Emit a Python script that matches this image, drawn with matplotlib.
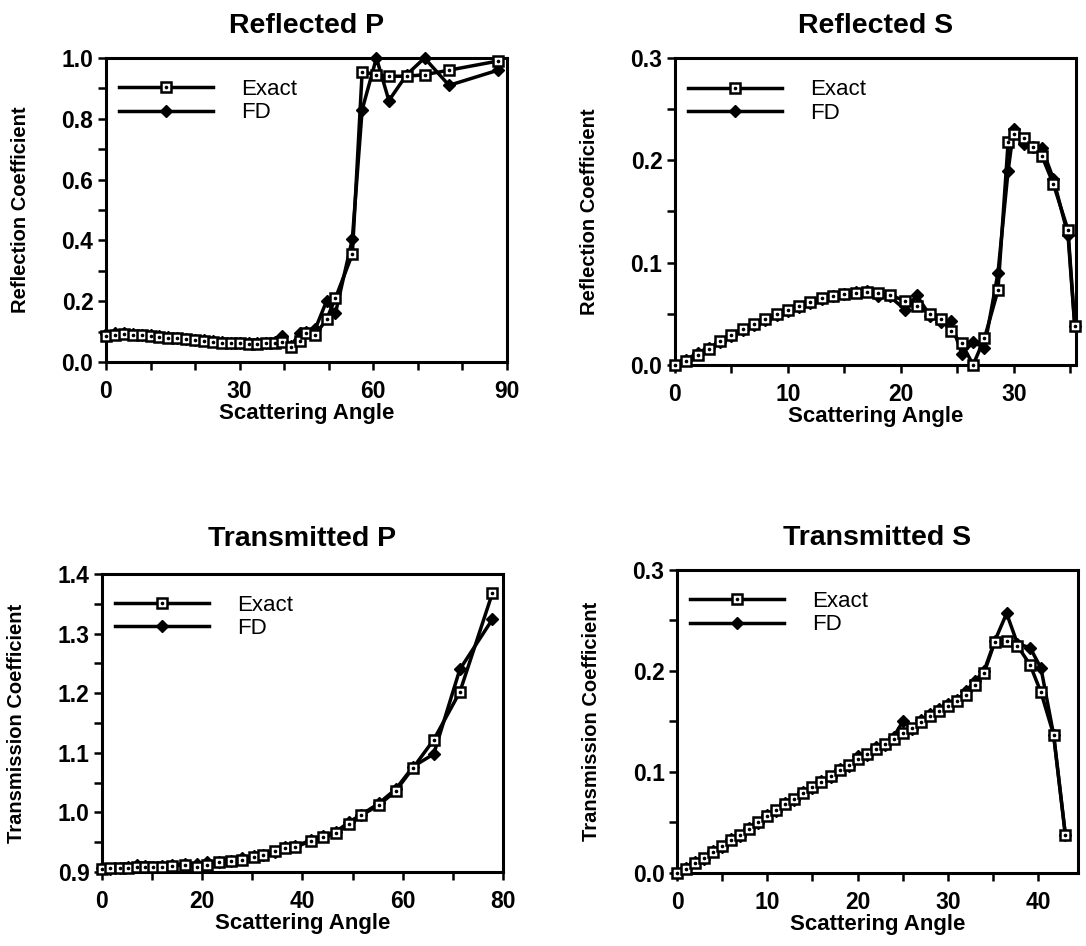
import matplotlib
matplotlib.use("Agg")
import matplotlib.pyplot as plt
from matplotlib.ticker import MultipleLocator, FormatStrFormatter
from matplotlib.legend_handler import HandlerTuple

plt.rcParams['font.family'] = ['Liberation Sans', 'DejaVu Sans']
plt.rcParams['font.weight'] = 'bold'
plt.rcParams['axes.titleweight'] = 'bold'
plt.rcParams['axes.labelweight'] = 'bold'

# ---------------- data ----------------
# Reflected P
rp_angle = [0, 2, 4, 6, 8, 10, 12, 14, 16, 18, 20, 22, 24, 26, 28, 30, 32, 34, 36, 38,
            39.5, 41.5, 43.5, 45, 47, 49.5, 51.5, 55.3, 57.5, 60.7, 63.5, 67.5, 71.5, 77, 88]
rp_exact = [0.085, 0.090, 0.093, 0.090, 0.088, 0.085, 0.083, 0.080, 0.078, 0.075, 0.072, 0.070,
            0.067, 0.064, 0.062, 0.061, 0.060, 0.060, 0.061, 0.062,
            0.065, 0.050, 0.070, 0.095, 0.090, 0.140, 0.210, 0.355, 0.955, 0.945, 0.940, 0.940,
            0.945, 0.960, 0.990]
rp_fd = [0.092, 0.095, 0.095, 0.093, 0.090, 0.088, 0.084, 0.082, 0.079, 0.076, 0.074, 0.072,
         0.070, 0.066, 0.063, 0.062, 0.061, 0.062, 0.062, 0.065,
         0.085, 0.052, 0.095, 0.100, 0.110, 0.200, 0.160, 0.405, 0.830, 1.000, 0.860, 0.945,
         1.000, 0.910, 0.960]

# Reflected S
rs_angle = [0, 1, 2, 3, 4, 5, 6, 7, 8, 9, 10, 11, 12, 13, 14, 15, 16, 17, 18, 19,
            20.4, 21.4, 22.6, 23.6, 24.4, 25.4, 26.4, 27.4, 28.6, 29.5, 30.0, 30.9, 31.7,
            32.5, 33.5, 34.8, 35.4]
rs_exact = [0.0, 0.004, 0.010, 0.016, 0.023, 0.029, 0.035, 0.040, 0.045, 0.050, 0.054, 0.058,
            0.062, 0.065, 0.067, 0.069, 0.070, 0.071, 0.070, 0.068,
            0.063, 0.058, 0.050, 0.045, 0.033, 0.021, 0.0, 0.026, 0.073, 0.218, 0.226, 0.222,
            0.213, 0.204, 0.177, 0.132, 0.038]
rs_fd = [0.0, 0.005, 0.012, 0.017, 0.022, 0.028, 0.034, 0.039, 0.044, 0.049, 0.053, 0.057,
         0.061, 0.064, 0.067, 0.069, 0.071, 0.072, 0.067, 0.067,
         0.054, 0.068, 0.048, 0.042, 0.043, 0.011, 0.022, 0.017, 0.090, 0.190, 0.231, 0.216,
         0.213, 0.212, 0.182, 0.127, 0.038]

# Transmitted P
tp_angle = [0, 1.7, 3.5, 5.2, 7, 8.5, 10.2, 12, 14, 16.5, 19, 21, 23.3, 25.8, 28, 30.3,
            32.2, 34.5, 36.5, 38.6, 41.7, 44.1, 46.6, 49.3, 51.7, 55.2, 58.6, 62.1, 66.2,
            71.4, 77.9]
tp_exact = [0.905, 0.906, 0.906, 0.907, 0.908, 0.908, 0.909, 0.909, 0.910, 0.912, 0.909,
            0.912, 0.916, 0.918, 0.921, 0.926, 0.928, 0.935, 0.940, 0.942, 0.952, 0.958,
            0.965, 0.980, 0.995, 1.012, 1.036, 1.075, 1.122, 1.202, 1.368]
tp_fd = [0.907, 0.905, 0.906, 0.908, 0.911, 0.910, 0.908, 0.910, 0.912, 0.914, 0.914,
         0.917, 0.917, 0.919, 0.923, 0.927, 0.929, 0.934, 0.942, 0.944, 0.953, 0.960,
         0.967, 0.984, 0.996, 1.015, 1.039, 1.077, 1.098, 1.240, 1.324]

# Transmitted S
ts_angle = [0, 1, 2, 3, 4, 5, 6, 7, 8, 9, 10, 11, 12, 13, 14, 15, 16, 17, 18, 19, 20,
            21, 22, 23, 24, 25, 26, 27, 28, 29, 30, 31, 32, 33, 34,
            35.2, 36.5, 37.7, 39.1, 40.3, 41.7, 43.0]
ts_exact = [0.0, 0.004, 0.010, 0.015, 0.021, 0.027, 0.033, 0.038, 0.044, 0.050, 0.056,
            0.062, 0.068, 0.073, 0.079, 0.085, 0.090, 0.096, 0.102, 0.107, 0.113,
            0.118, 0.123, 0.128, 0.133, 0.139, 0.144, 0.149, 0.155, 0.160, 0.165,
            0.170, 0.176, 0.186, 0.198,
            0.229, 0.230, 0.225, 0.206, 0.179, 0.137, 0.038]
ts_fd = [0.0, 0.005, 0.011, 0.014, 0.022, 0.026, 0.034, 0.037, 0.045, 0.049, 0.057,
         0.061, 0.069, 0.072, 0.080, 0.084, 0.091, 0.095, 0.103, 0.106, 0.116,
         0.117, 0.125, 0.127, 0.135, 0.150, 0.143, 0.151, 0.157, 0.162, 0.167,
         0.171, 0.180, 0.190, 0.200,
         0.230, 0.257, 0.227, 0.223, 0.203, 0.137, 0.038]

# ---------------- figure ----------------
fig = plt.figure(figsize=(10.86, 9.46), dpi=100)

panels = [
    dict(rect=[0.0976, 0.6173, 0.3692, 0.3214], title="Reflected P",
         ylabel="Reflection Coefficient", x=rp_angle, ex=rp_exact, fd=rp_fd,
         xlim=(0, 90), ylim=(0, 1.0), xmaj=30, xmin=10, ymaj=0.2, ymin=0.1, titlepad=18),
    dict(rect=[0.6215, 0.6142, 0.3692, 0.3245], title="Reflected S",
         ylabel="Reflection Coefficient", x=rs_angle, ex=rs_exact, fd=rs_fd,
         xlim=(0, 35.5), ylim=(0, 0.3), xmaj=10, xmin=5, ymaj=0.1, ymin=0.05, titlepad=18),
    dict(rect=[0.0939, 0.0782, 0.3692, 0.3150], title="Transmitted P",
         ylabel="Transmission Coefficient", x=tp_angle, ex=tp_exact, fd=tp_fd,
         xlim=(0, 80), ylim=(0.9, 1.4), xmaj=20, xmin=10, ymaj=0.1, ymin=0.05, titlepad=20),
    dict(rect=[0.6234, 0.0772, 0.3692, 0.3203], title="Transmitted S",
         ylabel="Transmission Coefficient", x=ts_angle, ex=ts_exact, fd=ts_fd,
         xlim=(0, 44.4), ylim=(0, 0.3), xmaj=10, xmin=5, ymaj=0.1, ymin=0.05, titlepad=18),
]

for p in panels:
    ax = fig.add_axes(p["rect"])
    lf, = ax.plot(p["x"], p["fd"], color="black", lw=2.5, marker="D", ms=6,
                  mfc="black", mec="black", clip_on=False, zorder=3)
    le, = ax.plot(p["x"], p["ex"], color="black", lw=2.5, marker="s", ms=7,
                  mfc="white", mec="black", mew=1.8, clip_on=False, zorder=4)
    ld, = ax.plot(p["x"], p["ex"], linestyle="none", marker="o", ms=1.6,
                  mfc="black", mec="black", clip_on=False, zorder=5)
    ax.set_xlim(*p["xlim"])
    ax.set_ylim(*p["ylim"])
    ax.xaxis.set_major_locator(MultipleLocator(p["xmaj"]))
    ax.xaxis.set_minor_locator(MultipleLocator(p["xmin"]))
    ax.yaxis.set_major_locator(MultipleLocator(p["ymaj"]))
    ax.yaxis.set_minor_locator(MultipleLocator(p["ymin"]))
    ax.yaxis.set_major_formatter(FormatStrFormatter("%.1f"))
    ax.tick_params(which="both", direction="out", length=6, width=1.8,
                   top=False, right=False)
    ax.tick_params(axis="x", which="major", labelsize=16.5, pad=7)
    ax.tick_params(axis="y", which="major", labelsize=16.5, pad=3)
    for s in ax.spines.values():
        s.set_linewidth(2.2)
    ax.set_title(p["title"], fontsize=20.5, pad=p["titlepad"])
    ax.set_xlabel("Scattering Angle", fontsize=16, labelpad=0)
    ax.set_ylabel(p["ylabel"], fontsize=14.5, labelpad=23)
    ax.legend([(le, ld), lf], ["Exact", "FD"],
              handler_map={tuple: HandlerTuple(ndivide=1)},
              loc="upper left", bbox_to_anchor=(0.033, 0.93), frameon=False,
              borderpad=0, borderaxespad=0, handlelength=4.2, handletextpad=1.3,
              labelspacing=0.1, numpoints=1,
              prop={"weight": "normal", "size": 16})

fig.savefig("out.png", dpi=100)
